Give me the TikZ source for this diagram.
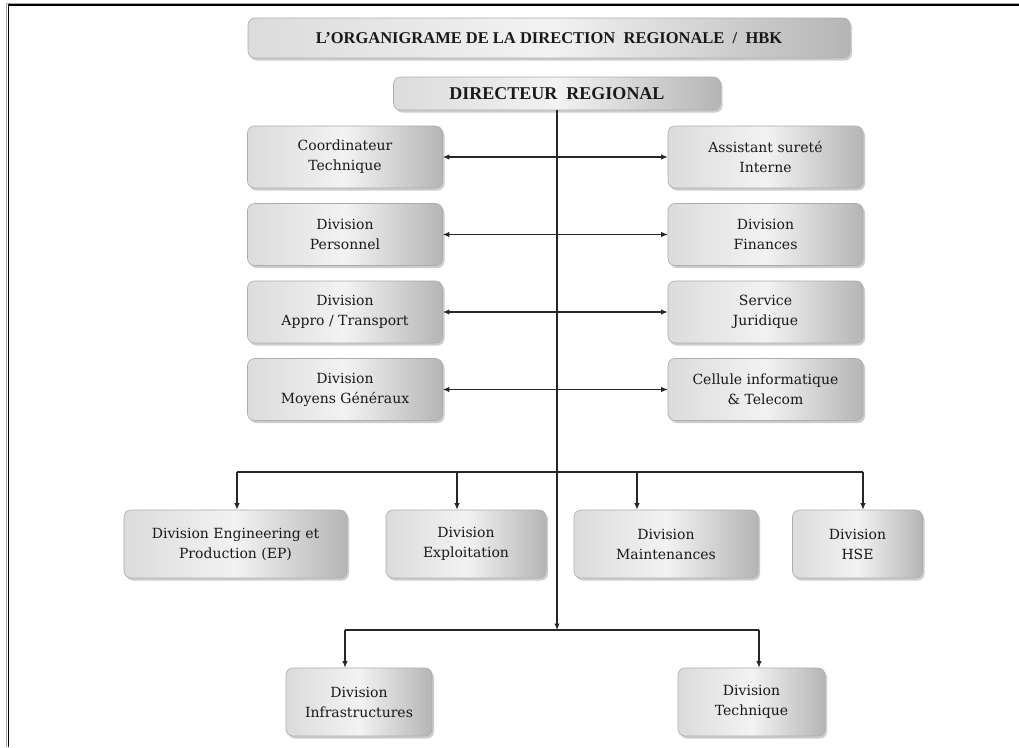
\documentclass[tikz,border=0pt]{standalone}
\usepackage{fontspec}
\setmainfont{DejaVu Serif}
\newfontfamily\titlefont{Liberation Serif}
\usetikzlibrary{shadows,arrows.meta,calc}
\begin{document}
\begin{tikzpicture}[x=1pt,y=-1pt,
  box/.style={draw=gray!65, line width=0.6pt, rounded corners=7pt,
    left color=gray!28, right color=gray!58, middle color=gray!10,
    drop shadow={opacity=0.4, shadow xshift=2pt, shadow yshift=-2.5pt},
    align=center, inner sep=0pt, text=black!90,
    font=\fontsize{14}{20}\selectfont},
  headbox/.style={box, font=\titlefont\bfseries\fontsize{16.5}{18}\selectfont},
  conn/.style={line width=1.2pt, black!85},
  tip/.style={-{Latex[length=6.5pt,width=5.5pt]}},
  dtip/.style={{Latex[length=6.5pt,width=5.5pt]}-{Latex[length=6.5pt,width=5.5pt]}}
]
\useasboundingbox (0,0) rectangle (1019,747);
\fill[white] (0,0) rectangle (1019,747);
% frame
\draw[gray!70, line width=1pt] (1019,3) -- (6.5,3) -- (6.5,747);
\draw[black, line width=1.6pt] (1019,5) -- (8.5,5) -- (8.5,747);

% heads
\node[headbox, minimum width=602, minimum height=40] (title) at (549,38)
  {L’ORGANIGRAME DE LA DIRECTION\ \ REGIONALE\ \ /\ \ HBK};
\node[headbox, minimum width=327, minimum height=33, font=\titlefont\bfseries\fontsize{18}{20}\selectfont] (dir) at (557,93.5)
  {DIRECTEUR\ \ REGIONAL};

% left column
\node[box, minimum width=195, minimum height=62] (coord) at (345,157) {Coordinateur\\Technique};
\node[box, minimum width=195, minimum height=62] (pers)  at (345,234.5) {Division\\Personnel};
\node[box, minimum width=195, minimum height=62] (appro) at (345,312) {Division\\Appro / Transport};
\node[box, minimum width=195, minimum height=62] (moy)   at (345,389.5) {Division\\Moyens Généraux};
% right column
\node[box, minimum width=195, minimum height=62] (asst) at (765.5,157) {Assistant sureté\\Interne};
\node[box, minimum width=195, minimum height=62] (fin)  at (765.5,234.5) {Division\\Finances};
\node[box, minimum width=195, minimum height=62] (jur)  at (765.5,312) {Service\\Juridique};
\node[box, minimum width=195, minimum height=62] (cell) at (765.5,389.5) {Cellule informatique\\\& Telecom};

% row of divisions
\node[box, minimum width=223, minimum height=68] (ep)   at (235.5,544) {Division Engineering et\\Production (EP)};
\node[box, minimum width=160, minimum height=68] (expl) at (466,544) {Division\\Exploitation};
\node[box, minimum width=184, minimum height=68] (mnt)  at (666,544) {Division\\Maintenances};
\node[box, minimum width=130, minimum height=68] (hse)  at (857.5,544) {Division\\HSE};
% bottom row
\node[box, minimum width=146, minimum height=68] (infra) at (359,702) {Division\\Infrastructures};
\node[box, minimum width=147, minimum height=68] (tech)  at (751.5,702) {Division\\Technique};

% bus coordinates
\coordinate (d1) at (237,472);
\coordinate (d2) at (457,472);
\coordinate (d3) at (637,472);
\coordinate (d4) at (863,472);
\coordinate (e1) at (345,630);
\coordinate (e2) at (759,630);

% trunk
\draw[conn, tip] (dir.south) -- (dir.south |- e1);
% side links
\draw[conn, dtip] (coord.east) -- (asst.west);
\draw[conn, dtip] (pers.east) -- (fin.west);
\draw[conn, dtip] (appro.east) -- (jur.west);
\draw[conn, dtip] (moy.east) -- (cell.west);
% first bus
\draw[conn] (d1) -- (d4);
\draw[conn, tip] (d1) -- (d1 |- ep.north);
\draw[conn, tip] (d2) -- (d2 |- expl.north);
\draw[conn, tip] (d3) -- (d3 |- mnt.north);
\draw[conn, tip] (d4) -- (d4 |- hse.north);
% second bus
\draw[conn] (e1) -- (e2);
\draw[conn, tip] (e1) -- (e1 |- infra.north);
\draw[conn, tip] (e2) -- (e2 |- tech.north);
\end{tikzpicture}
\end{document}
